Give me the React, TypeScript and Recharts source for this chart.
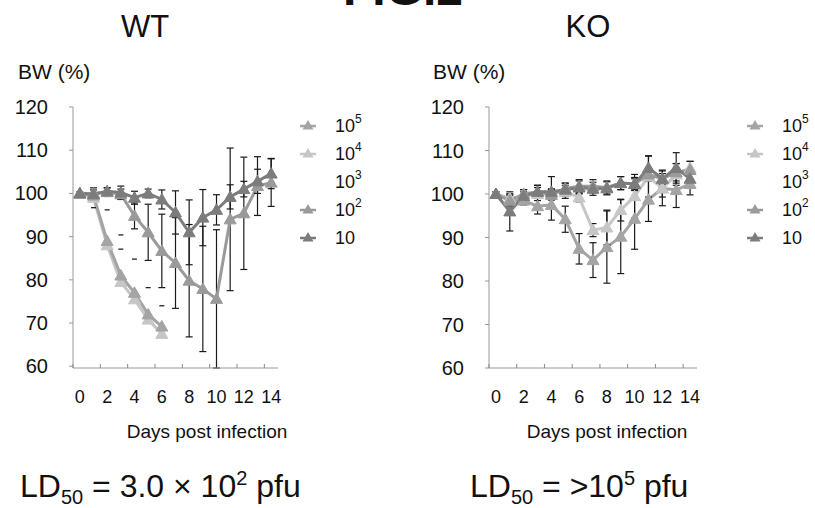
import React from "react";
import { LineChart, Line, XAxis, YAxis, ErrorBar } from "recharts";

// body weight (%) per day post infection
const days = [0, 1, 2, 3, 4, 5, 6, 7, 8, 9, 10, 11, 12, 13, 14];
const xTicks = [0, 2, 4, 6, 8, 10, 12, 14];
const yTicks = [60, 70, 80, 90, 100, 110, 120];
const doseExp = ["5", "4", "3", "2", ""];

// WT
const wt1e5 = [100, 99.5, 89, 81, 77, 72, 69.2];
const wt1e5Cap = [null, null, 96.2, 90.4, 84.8, 78.2, 74];
const wt1e4 = [100, 99, 88, 79.5, 75.5, 70.8, 67.5];
const wt1e4Cap = [null, 96.7, null, 87.1, null, null, null];
const wt1e2 = [100, 100, 100.3, 99.8, 94.8, 91, 86.7, 83.9, 79.8, 77.9, 75.6, 94, 95.4, 101.7, 102.5];
const wt1e2Err = [0.3, 0.8, 1, 1.2, 3, 6.5, 8.5, 10.5, 13, 14.5, 16, 16.5, 13, 6.8, 5.5];
const wt10 = [100, 99.8, 100.5, 100.2, 99, 100, 98.6, 95.6, 91, 94.4, 96.2, 99.2, 101, 102.8, 104.6];
const wt10Err = [0.3, 1.5, 0.8, 1.5, 1.5, 1, 2.2, 5, 7.5, 6.5, 3.5, 2.8, 1.8, 2.8, 3.5];

// KO
const ko1e5 = [100, 98.5, 98.5, 97.2, 97.5, 94.2, 87.4, 84.8, 87.8, 90.2, 94.3, 98.7, 101.3, 100.9, 102.3];
const ko1e5Err = [0, 1.5, 1, 1.8, 3.5, 3, 3.5, 4, 8.3, 8.5, 7, 5, 4, 4, 2.5];
const ko1e4 = [100, 99, 99.5, 100, 100.2, 100.5, 99.2, 91.7, 92.3, 96.3, 99.5, 104, 101.3, 104.5, 106];
const ko1e4Err = [0, 1, 1, 1.5, 1, 1.5, 1, 1.5, 4, 2.5, 5, 4.7, 2, 2.5, 1.5];
const ko1e2 = [100, 98.5, 100, 100.5, 99.8, 101.3, 101.8, 101.8, 101.5, 102.5, 102.3, 104.5, 103.5, 105, 105.5];
const ko1e2Err = [0.5, 1.2, 1, 1.5, 1.2, 1.2, 1.5, 1.5, 1.5, 1.5, 1.5, 1.5, 1.2, 2, 2];
const ko10 = [100, 96, 99.5, 100.5, 100.5, 101, 101.5, 101.2, 101.3, 102.5, 102.3, 106, 103.5, 106, 103.5];
const ko10Err = [0.5, 4.5, 1.5, 1.5, 3.5, 1.5, 1.5, 1.5, 1.5, 1.5, 1.2, 2.8, 2, 3.5, 1.5];

const C5 = "#a4a4a4";
const C4 = "#c6c6c6";
const C2 = "#9a9a9a";
const C1 = "#7c7c7c";
const doseColors = [C5, C4, null, C2, C1];

const FONT = "'Liberation Sans', Arial, Helvetica, sans-serif";
const AXIS_Y = 368;

const pick = (arr: (number | null)[], i: number) => (i < arr.length ? arr[i] : null);

const wtData = days.map((d, i) => ({
  day: d,
  s5: pick(wt1e5, i),
  s5cap: pick(wt1e5Cap, i),
  s4: pick(wt1e4, i),
  s4cap: pick(wt1e4Cap, i),
  s2: wt1e2[i],
  e2: wt1e2Err[i],
  s1: wt10[i],
  e1: wt10Err[i],
}));

const koData = days.map((d, i) => ({
  day: d,
  s5: ko1e5[i],
  e5: ko1e5Err[i],
  s4: ko1e4[i],
  e4: ko1e4Err[i],
  s2: ko1e2[i],
  e2: ko1e2Err[i],
  s1: ko10[i],
  e1: ko10Err[i],
}));

const triDot = (color: string) => (p: any) => {
  const { cx, cy, value, index } = p;
  if (cx == null || cy == null || value == null) return <g key={index} />;
  return (
    <polygon
      key={index}
      points={`${cx},${cy - 6} ${cx - 6},${cy + 4.5} ${cx + 6},${cy + 4.5}`}
      fill={color}
      stroke={color}
      strokeWidth={1}
    />
  );
};

const dashDot = (p: any) => {
  const { cx, cy, value, index } = p;
  if (cx == null || cy == null || value == null) return <g key={index} />;
  return <line key={index} x1={cx - 2.5} x2={cx + 2.5} y1={cy} y2={cy} stroke="#222" strokeWidth={1.3} />;
};

// labels under even days, small upward ticks between categories
const makeXTick = (half: number) => (p: any) => {
  const { x, payload } = p;
  return (
    <g>
      <line x1={x - half} x2={x - half} y1={AXIS_Y} y2={AXIS_Y - 4} stroke="#888" />
      <text x={x} y={AXIS_Y + 35} textAnchor="middle" fontSize={18} fontFamily={FONT} fill="#111">
        {payload.value}
      </text>
    </g>
  );
};

const YTick = (p: any) => {
  const { x, y, payload } = p;
  return (
    <text x={x} y={y} dy={7} textAnchor="end" fontSize={20} fontFamily={FONT} fill="#111">
      {payload.value}
    </text>
  );
};

function Panel({ data, left, width, marginLeft, marginRight, series, caps }: any) {
  const plotW = width - marginLeft - marginRight - 60;
  const half = plotW / 30;
  return (
    <div style={{ position: "absolute", left, top: 0 }}>
      <LineChart
        width={width}
        height={420}
        data={data}
        margin={{ top: 107, right: marginRight, bottom: 0, left: marginLeft }}
      >
        <XAxis
          dataKey="day"
          type="number"
          domain={[-0.5, 14.5]}
          ticks={xTicks}
          interval={0}
          height={52}
          tickLine={false}
          axisLine={{ stroke: "#999" }}
          tick={makeXTick(half)}
        />
        <YAxis
          type="number"
          domain={[60, 120]}
          ticks={yTicks}
          interval={0}
          width={60}
          tickSize={4}
          tickMargin={21}
          tickLine={{ stroke: "#999" }}
          axisLine={{ stroke: "#999" }}
          tick={YTick}
        />
        {series.map((s: any) => (
          <Line
            key={s.key}
            dataKey={s.key}
            type="linear"
            stroke={s.color}
            strokeWidth={3}
            dot={triDot(s.color)}
            activeDot={false}
            isAnimationActive={false}
          >
            {s.err && (
              <ErrorBar dataKey={s.err} direction="y" width={3.5} stroke="#1a1a1a" strokeWidth={1.2} />
            )}
          </Line>
        ))}
        {caps.map((k: string) => (
          <Line
            key={k}
            dataKey={k}
            stroke="none"
            dot={dashDot}
            activeDot={false}
            isAnimationActive={false}
          />
        ))}
      </LineChart>
    </div>
  );
}

function LegendBlock({ mx, lx }: { mx: number; lx: number }) {
  return (
    <g>
      {doseExp.map((e, i) => {
        const cy = 125 + i * 28;
        const c = doseColors[i];
        return (
          <g key={i}>
            {c && (
              <g>
                <line x1={mx - 8} x2={mx + 8} y1={cy + 1} y2={cy + 1} stroke={c} strokeWidth={2.5} />
                <polygon points={`${mx},${cy - 5} ${mx - 5.5},${cy + 4.5} ${mx + 5.5},${cy + 4.5}`} fill={c} />
              </g>
            )}
            <text x={lx} y={cy + 7} fontSize={18} fontFamily={FONT} fill="#111">
              10
              {e && (
                <tspan fontSize={12} dy={-9}>
                  {e}
                </tspan>
              )}
            </text>
          </g>
        );
      })}
    </g>
  );
}

export default function App() {
  const wtSeries = [
    { key: "s4", color: C4 },
    { key: "s5", color: C5 },
    { key: "s2", color: C2, err: "e2" },
    { key: "s1", color: C1, err: "e1" },
  ];
  const koSeries = [
    { key: "s5", color: C5, err: "e5" },
    { key: "s4", color: C4, err: "e4" },
    { key: "s2", color: C2, err: "e2" },
    { key: "s1", color: C1, err: "e1" },
  ];
  return (
    <div style={{ position: "absolute", left: 0, top: 0, width: 815, height: 508, background: "#fff", fontFamily: FONT }}>
      <Panel data={wtData} left={0} width={300} marginLeft={13} marginRight={22} series={wtSeries} caps={["s5cap", "s4cap"]} />
      <Panel data={koData} left={415} width={300} marginLeft={14} marginRight={18} series={koSeries} caps={[]} />
      <svg width={815} height={508} style={{ position: "absolute", left: 0, top: 0, pointerEvents: "none" }}>
        <g fontFamily={FONT} fill="#111">
          <text x={343} y={5} fontSize={48} fontWeight="bold">FIG.2</text>
          <text x={145} y={37} fontSize={31} textAnchor="middle">WT</text>
          <text x={588} y={37} fontSize={31} textAnchor="middle">KO</text>
          <text x={18} y={79} fontSize={21}>BW (%)</text>
          <text x={433} y={79} fontSize={21}>BW (%)</text>
          <text x={207} y={438} fontSize={19} textAnchor="middle">Days post infection</text>
          <text x={607} y={438} fontSize={19} textAnchor="middle">Days post infection</text>
          <text x={20} y={497} fontSize={32}>
            LD<tspan fontSize={20} dy={7}>50</tspan>
            <tspan dy={-7}> = 3.0 × 10</tspan>
            <tspan fontSize={20} dy={-12}>2</tspan>
            <tspan dy={12}> pfu</tspan>
          </text>
          <text x={470} y={497} fontSize={32}>
            LD<tspan fontSize={20} dy={7}>50</tspan>
            <tspan dy={-7}> = &gt;10</tspan>
            <tspan fontSize={20} dy={-12}>5</tspan>
            <tspan dy={12}> pfu</tspan>
          </text>
        </g>
        <LegendBlock mx={308} lx={335} />
        <LegendBlock mx={755} lx={782} />
      </svg>
    </div>
  );
}
